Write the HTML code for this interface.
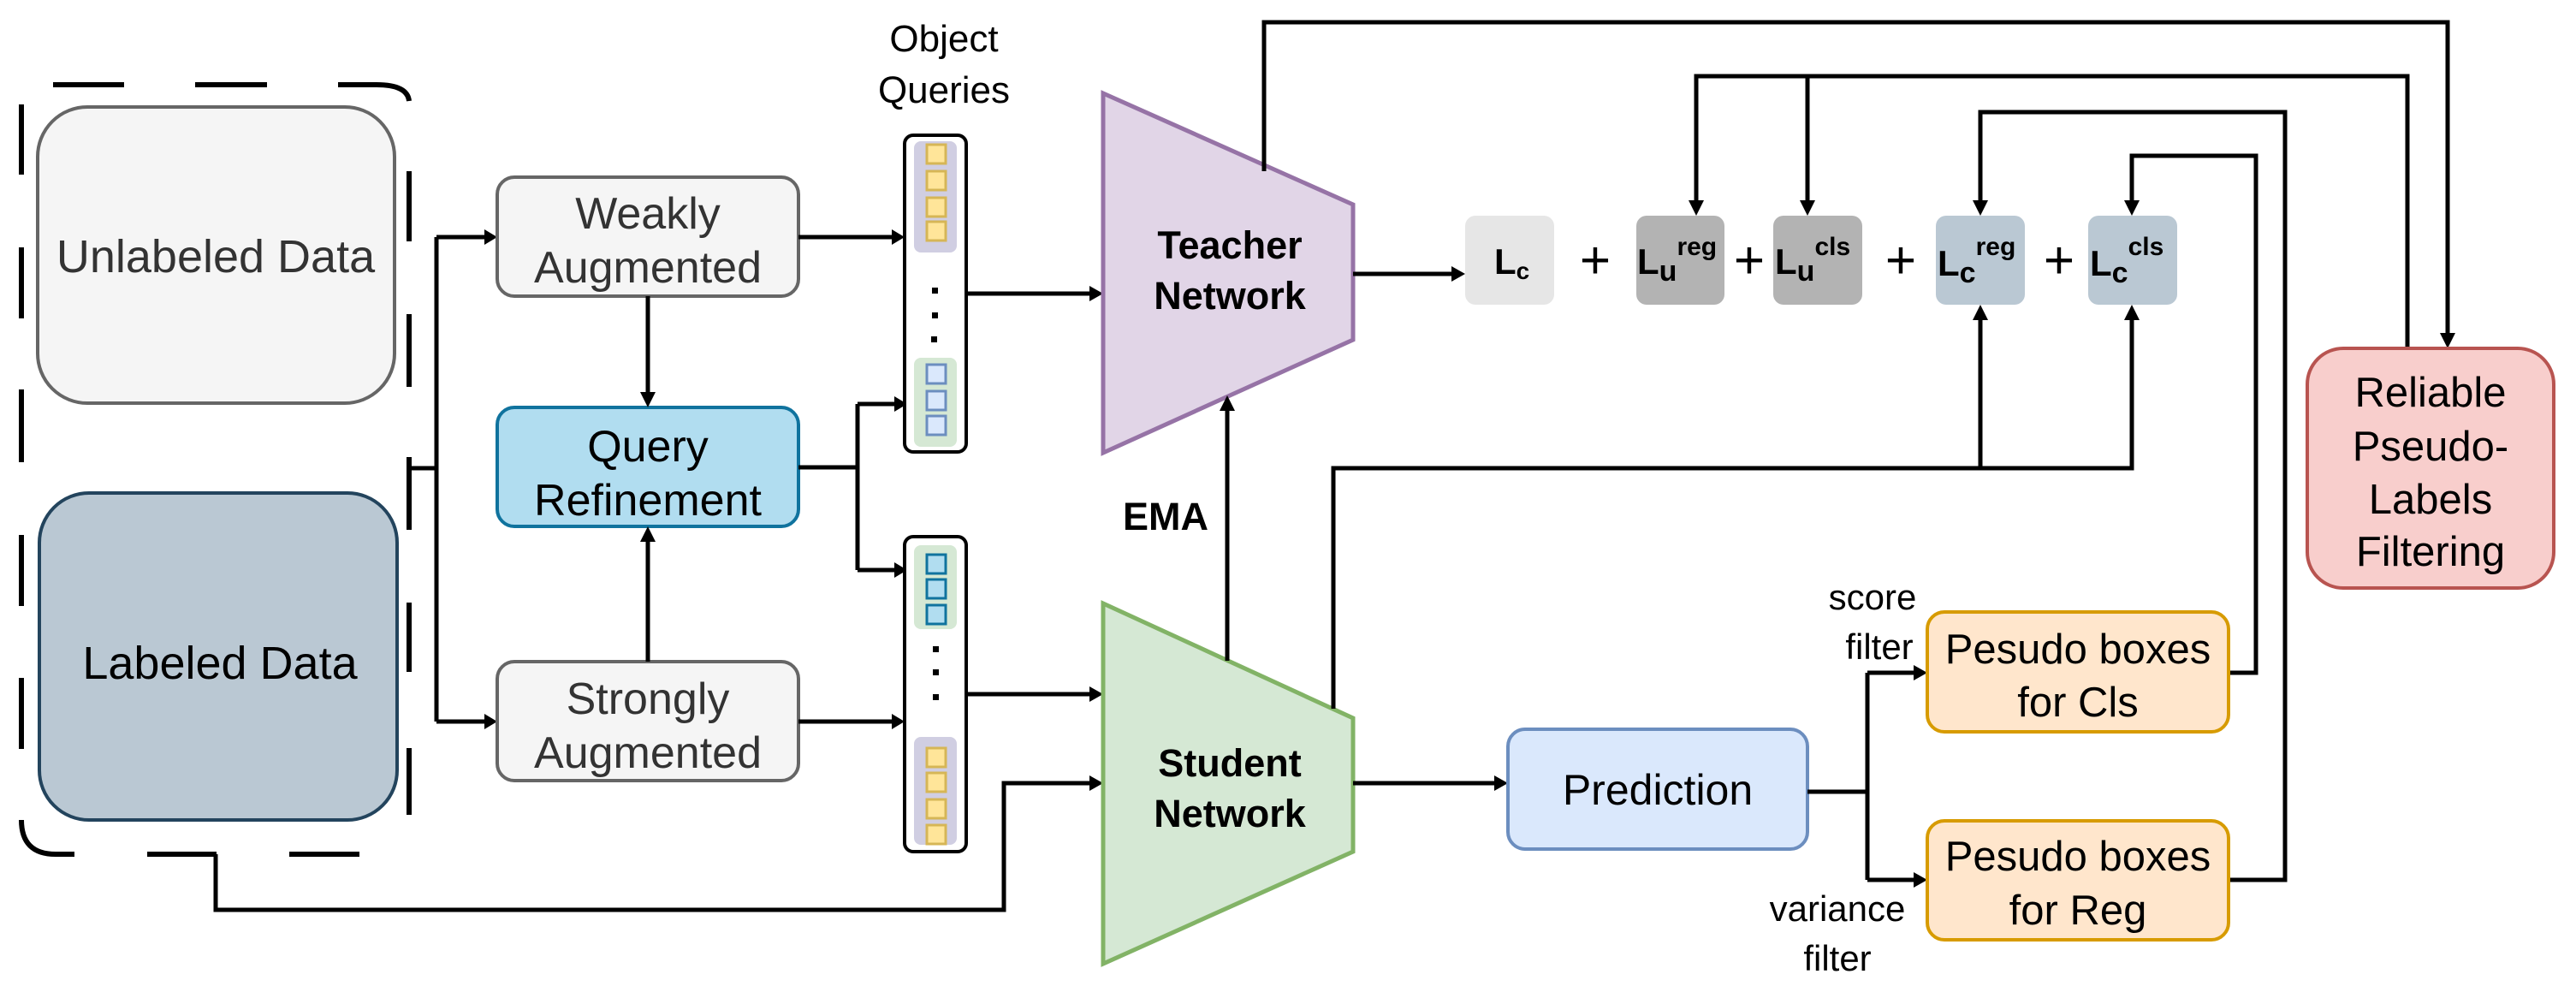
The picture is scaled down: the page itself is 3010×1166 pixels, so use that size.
<!DOCTYPE html>
<html><head><meta charset="utf-8"><style>
html,body{margin:0;padding:0;background:#fff;}
svg{display:block;}
text{font-family:"Liberation Sans",Arial,sans-serif;}
</style></head><body>
<svg width="3010" height="1166" viewBox="0 0 3010 1166" xmlns="http://www.w3.org/2000/svg">
<style>
.l{stroke:#000;stroke-width:5;fill:none;}
.d{stroke:#000;stroke-width:6;fill:none;}
.t{font-size:46px;text-anchor:middle;}
.b{font-weight:bold;}
</style>

<g class="d">
<line x1="62" y1="99" x2="145" y2="99"/>
<line x1="228" y1="99" x2="312" y2="99"/>
<path d="M395,99 L440,99 Q476,99 478,118"/>
<line x1="25" y1="122" x2="25" y2="204"/>
<line x1="25" y1="289" x2="25" y2="372"/>
<line x1="25" y1="455" x2="25" y2="540"/>
<line x1="25" y1="625" x2="25" y2="708"/>
<line x1="25" y1="792" x2="25" y2="875"/>
<path d="M25,958 Q25,998 65,998 L87,998"/>
<line x1="172" y1="998" x2="253" y2="998"/>
<line x1="338" y1="998" x2="420" y2="998"/>
<line x1="478" y1="200" x2="478" y2="282"/>
<line x1="478" y1="367" x2="478" y2="452"/>
<line x1="478" y1="534" x2="478" y2="619"/>
<line x1="478" y1="704" x2="478" y2="785"/>
<line x1="478" y1="874" x2="478" y2="952"/>
</g>

<rect x="44" y="125" width="417" height="346" rx="58" fill="#f5f5f5" stroke="#666" stroke-width="4"/>
<text x="252" y="318" class="t" style="font-size:54px;fill:#333">Unlabeled Data</text>
<rect x="46" y="576" width="418" height="382" rx="58" fill="#bac8d3" stroke="#23445d" stroke-width="4"/>
<text x="257" y="793" class="t" style="font-size:54px">Labeled Data</text>

<path class="l" d="M480,547 L510,547 M510,277 L510,843 M510,277 L572,277 M510,843 L572,843"/>
<polygon points="581,277 566,268 566,286"/>
<polygon points="581,843 566,834 566,852"/>

<rect x="581" y="207" width="352" height="139" rx="20" fill="#f5f5f5" stroke="#666" stroke-width="4"/>
<text x="757" y="267" class="t" style="font-size:52px;fill:#333">Weakly</text>
<text x="757" y="330" class="t" style="font-size:52px;fill:#333">Augmented</text>
<rect x="581" y="476" width="352" height="139" rx="20" fill="#b1ddf0" stroke="#10739e" stroke-width="4"/>
<text x="757" y="539" class="t" style="font-size:52px">Query</text>
<text x="757" y="602" class="t" style="font-size:52px">Refinement</text>
<rect x="581" y="773" width="352" height="139" rx="20" fill="#f5f5f5" stroke="#666" stroke-width="4"/>
<text x="757" y="834" class="t" style="font-size:52px;fill:#333">Strongly</text>
<text x="757" y="897" class="t" style="font-size:52px;fill:#333">Augmented</text>

<path class="l" d="M757,346 L757,462 M757,773 L757,630"/>
<polygon points="757,476 748,458 766,458"/>
<polygon points="757,615 748,633 766,633"/>

<path class="l" d="M933,277 L1045,277 M933,546 L1002,546 M1002,472 L1002,666 M1002,472 L1048,472 M1002,666 L1048,666 M933,843 L1045,843"/>
<polygon points="1057,277 1042,268 1042,286"/>
<polygon points="1060,472 1045,463 1045,481"/>
<polygon points="1060,666 1045,657 1045,675"/>
<polygon points="1057,843 1042,834 1042,852"/>

<text x="1103" y="60" class="t" style="font-size:44px">Object</text>
<text x="1103" y="120" class="t" style="font-size:44px">Queries</text>

<rect x="1057" y="158" width="72" height="370" rx="10" fill="#fff" stroke="#000" stroke-width="4"/>
<rect x="1068" y="165" width="50" height="130" rx="8" fill="#d0cee2"/>
<g fill="#ffe599" stroke="#d6b656" stroke-width="3">
<rect x="1083" y="169" width="22" height="22"/><rect x="1083" y="200" width="22" height="22"/><rect x="1083" y="231" width="22" height="22"/><rect x="1083" y="259" width="22" height="22"/>
</g>
<g fill="#000"><rect x="1089" y="336" width="7" height="7"/><rect x="1089" y="365" width="7" height="7"/><rect x="1088" y="393" width="7" height="7"/></g>
<rect x="1068" y="418" width="50" height="104" rx="8" fill="#d5e8d4"/>
<g fill="#dae8fc" stroke="#6c8ebf" stroke-width="3">
<rect x="1083" y="426" width="22" height="22"/><rect x="1083" y="457" width="22" height="22"/><rect x="1083" y="486" width="22" height="22"/>
</g>

<rect x="1057" y="627" width="72" height="368" rx="10" fill="#fff" stroke="#000" stroke-width="4"/>
<rect x="1068" y="637" width="50" height="98" rx="8" fill="#d5e8d4"/>
<g fill="#b1ddf0" stroke="#10739e" stroke-width="3">
<rect x="1083" y="648" width="22" height="22"/><rect x="1083" y="677" width="22" height="22"/><rect x="1083" y="707" width="22" height="22"/>
</g>
<g fill="#000"><rect x="1090" y="755" width="7" height="7"/><rect x="1090" y="782" width="7" height="7"/><rect x="1090" y="811" width="7" height="7"/></g>
<rect x="1068" y="861" width="50" height="126" rx="8" fill="#d0cee2"/>
<g fill="#ffe599" stroke="#d6b656" stroke-width="3">
<rect x="1083" y="874" width="22" height="22"/><rect x="1083" y="903" width="22" height="22"/><rect x="1083" y="934" width="22" height="22"/><rect x="1083" y="964" width="22" height="22"/>
</g>

<path class="l" d="M1129,343 L1275,343 M1129,811 L1275,811 M252,998 L252,1063 L1173,1063 L1173,915 L1275,915"/>
<polygon points="1289,343 1273,334 1273,352"/>
<polygon points="1289,811 1273,802 1273,820"/>
<polygon points="1289,915 1273,906 1273,924"/>

<polygon points="1289,109 1581,239 1581,397 1289,529" fill="#e1d5e7" stroke="#9673a6" stroke-width="5"/>
<text x="1437" y="302" class="t b" style="font-size:45px">Teacher</text>
<text x="1437" y="361" class="t b" style="font-size:45px">Network</text>
<polygon points="1289,705 1581,839 1581,995 1289,1126" fill="#d5e8d4" stroke="#82b366" stroke-width="5"/>
<text x="1437" y="907" class="t b" style="font-size:45px">Student</text>
<text x="1437" y="966" class="t b" style="font-size:45px">Network</text>

<path class="l" d="M1434,772 L1434,476"/>
<polygon points="1434,462 1425,480 1443,480"/>
<text x="1362" y="619" class="t b" style="font-size:45px">EMA</text>

<path class="l" d="M1581,320 L1698,320"/>
<polygon points="1712,320 1696,311 1696,329"/>

<rect x="1712" y="252" width="104" height="104" rx="12" fill="#e6e6e6"/>
<rect x="1912" y="252" width="103" height="104" rx="12" fill="#b3b3b3"/>
<rect x="2072" y="252" width="104" height="104" rx="12" fill="#b3b3b3"/>
<rect x="2262" y="252" width="104" height="104" rx="12" fill="#bac8d3"/>
<rect x="2440" y="252" width="104" height="104" rx="12" fill="#bac8d3"/>
<g class="b" style="font-size:42px">
<text x="1746" y="320">L<tspan style="font-size:28px" dy="6">c</tspan></text>
<text x="1913" y="320">L<tspan style="font-size:34px" dy="8">u</tspan><tspan style="font-size:30px" dy="-30">reg</tspan></text>
<text x="2074" y="320">L<tspan style="font-size:34px" dy="8">u</tspan><tspan style="font-size:30px" dy="-30">cls</tspan></text>
<text x="2264" y="322">L<tspan style="font-size:34px" dy="8">c</tspan><tspan style="font-size:30px" dy="-32">reg</tspan></text>
<text x="2442" y="322">L<tspan style="font-size:34px" dy="8">c</tspan><tspan style="font-size:30px" dy="-32">cls</tspan></text>
</g>
<g style="font-size:62px" text-anchor="middle">
<text x="1864" y="325">+</text><text x="2044" y="325">+</text><text x="2221" y="325">+</text><text x="2406" y="325">+</text>
</g>

<path class="l" d="M1477,200 L1477,26 L2860,26 L2860,393"/>
<polygon points="2860,407 2851,389 2869,389"/>
<path class="l" d="M2813,407 L2813,89 L1982,89 L1982,238 M2112,89 L2112,238"/>
<polygon points="1982,252 1973,234 1991,234"/>
<polygon points="2112,252 2103,234 2121,234"/>
<path class="l" d="M2604,1028 L2670,1028 L2670,131 L2314,131 L2314,238"/>
<polygon points="2314,252 2305,234 2323,234"/>
<path class="l" d="M2604,786 L2636,786 L2636,182 L2491,182 L2491,238"/>
<polygon points="2491,252 2482,234 2500,234"/>

<path class="l" d="M1558,828 L1558,547 L2491,547 L2491,370 M2314,547 L2314,370"/>
<polygon points="2314,356 2305,374 2323,374"/>
<polygon points="2491,356 2482,374 2500,374"/>

<path class="l" d="M1581,915 L1748,915"/>
<polygon points="1762,915 1746,906 1746,924"/>
<rect x="1762" y="852" width="350" height="140" rx="20" fill="#dae8fc" stroke="#6c8ebf" stroke-width="4"/>
<text x="1937" y="940" class="t" style="font-size:50px">Prediction</text>

<path class="l" d="M2112,925 L2182,925 M2182,786 L2182,1028 M2182,786 L2238,786 M2182,1028 L2238,1028"/>
<polygon points="2252,786 2236,777 2236,795"/>
<polygon points="2252,1028 2236,1019 2236,1037"/>

<rect x="2252" y="715" width="352" height="140" rx="20" fill="#ffe6cc" stroke="#d79b00" stroke-width="4"/>
<text x="2428" y="775" class="t" style="font-size:49px">Pesudo boxes</text>
<text x="2428" y="837" class="t" style="font-size:49px">for Cls</text>
<rect x="2252" y="959" width="352" height="139" rx="20" fill="#ffe6cc" stroke="#d79b00" stroke-width="4"/>
<text x="2428" y="1017" class="t" style="font-size:49px">Pesudo boxes</text>
<text x="2428" y="1080" class="t" style="font-size:49px">for Reg</text>

<text x="2188" y="712" class="t" style="font-size:42px">score</text>
<text x="2196" y="770" class="t" style="font-size:42px">filter</text>
<text x="2147" y="1076" class="t" style="font-size:42px">variance</text>
<text x="2147" y="1134" class="t" style="font-size:42px">filter</text>

<rect x="2696" y="407" width="288" height="280" rx="42" fill="#f8cecc" stroke="#b85450" stroke-width="4"/>
<g class="t" style="font-size:49px">
<text x="2840" y="475">Reliable</text>
<text x="2840" y="538">Pseudo-</text>
<text x="2840" y="600">Labels</text>
<text x="2840" y="661">Filtering</text>
</g>
</svg>
</body></html>
